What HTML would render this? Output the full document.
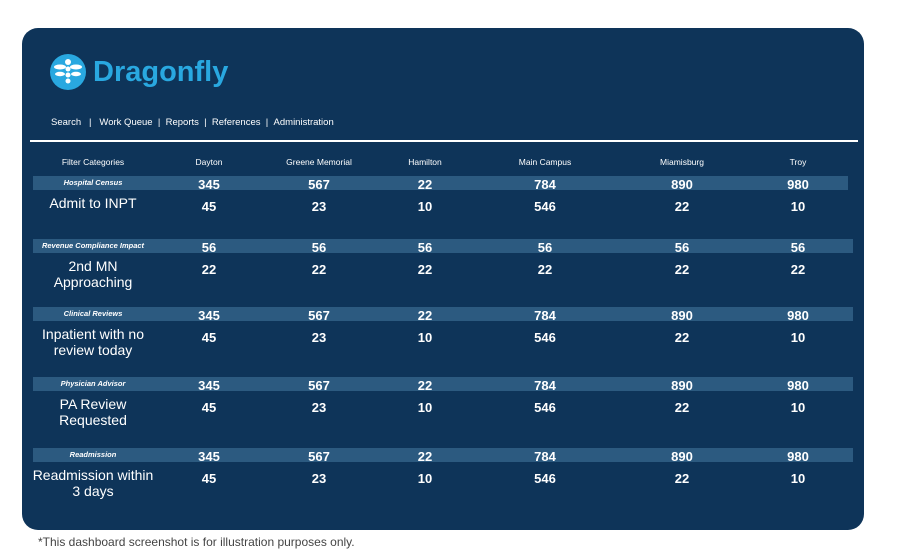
<!DOCTYPE html>
<html><head><meta charset="utf-8">
<style>
body{margin:0;width:900px;height:558px;background:#fff;font-family:"Liberation Sans",sans-serif;position:relative;overflow:hidden}
#card{position:absolute;left:22px;top:28px;width:842px;height:502px;background:#0e3459;border-radius:16px}
.abs{position:absolute;color:#fff;white-space:nowrap}
.c{transform:translateX(-50%);text-align:center}
.bar{position:absolute;left:33px;height:14px;background:#2c5a80}
.cat{font-size:7.5px;font-style:italic;font-weight:bold}
.num{font-size:13px;font-weight:bold}
.lbl{font-size:14px;line-height:16px}
.hdr{font-size:8.5px}
.nav{font-size:9.5px}
#note{position:absolute;left:38px;top:535px;font-size:12px;color:#444}
</style></head><body>
<div id="card"></div>
<svg style="position:absolute;left:50px;top:54px" width="36" height="36">
<circle cx="18" cy="18" r="18" fill="#29a8e0"/>
<g fill="#fff"><circle cx="18" cy="8" r="3"/><circle cx="18" cy="15" r="2.5"/><circle cx="18" cy="21" r="2.5"/><circle cx="18" cy="27" r="2.5"/>
<ellipse cx="10" cy="13" rx="6" ry="2.5"/><ellipse cx="26" cy="13" rx="6" ry="2.5"/><ellipse cx="10" cy="20" rx="5" ry="2.2"/><ellipse cx="26" cy="20" rx="5" ry="2.2"/></g></svg>
<div class="abs" style="left:93px;top:56px;font-size:29px;font-weight:bold;color:#29a8e0">Dragonfly</div>
<div class="abs nav" style="left:51px;top:117px">
<span>Search</span> &nbsp; | &nbsp; <span>Work Queue</span> &nbsp;| &nbsp;<span>Reports</span> &nbsp;| &nbsp;<span>References</span> &nbsp;| &nbsp;<span>Administration</span></div>
<div style="position:absolute;left:30px;top:140px;width:828px;height:2px;background:#fff"></div>
<div id="note">*This dashboard screenshot is for illustration purposes only.</div>
<script>
const columns=["Filter Categories","Dayton","Greene Memorial","Hamilton","Main Campus","Miamisburg","Troy"];
const categories=["Hospital Census","Revenue Compliance Impact","Clinical Reviews","Physician Advisor","Readmission"];
const labels=[["Admit to INPT"],["2nd MN","Approaching"],["Inpatient with no","review today"],["PA Review","Requested"],["Readmission within","3 days"]];
const topValues=[[345,567,22,784,890,980],[56,56,56,56,56,56],[345,567,22,784,890,980],[345,567,22,784,890,980],[345,567,22,784,890,980]];
const subValues=[[45,23,10,546,22,10],[22,22,22,22,22,22],[45,23,10,546,22,10],[45,23,10,546,22,10],[45,23,10,546,22,10]];
const colX=[93,209,319,425,545,682,798];
const barY=[176,239,307,377,448];
const barW=[815,820,820,820,820];
function add(cls,x,y,txt,name,inter){const d=document.createElement('div');d.className='abs c '+cls;d.style.left=x+'px';d.style.top=y+'px';d.textContent=txt;


document.body.appendChild(d);return d;}
columns.forEach((c,i)=>add('hdr',colX[i],157,c,'column-header',false));
categories.forEach((cat,r)=>{const y=barY[r];
const b=document.createElement('div');b.className='bar';b.style.top=y+'px';b.style.width=barW[r]+'px';


document.body.appendChild(b);
add('cat',colX[0],y+2,cat,'category-label',false);
topValues[r].forEach((v,i)=>add('num',colX[i+1],y+1,v,'top-value',true));
subValues[r].forEach((v,i)=>add('num',colX[i+1],y+23,v,'sub-value',true));
const l=add('lbl',colX[0],y+19,'', 'filter-label',true);l.innerHTML=labels[r].join('<br>');
});
</script>
</body></html>
